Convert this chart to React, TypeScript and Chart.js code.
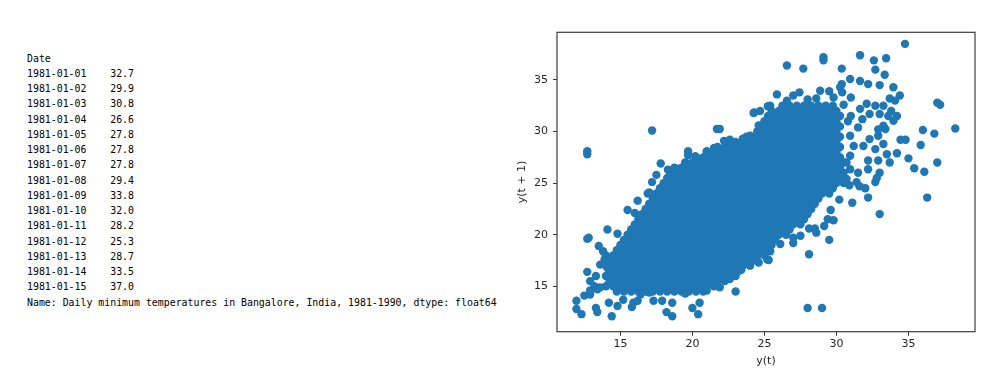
import React, { useEffect, useRef } from "react";
import { Chart, registerables } from "chart.js";

Chart.register(...registerables);

// ---- Left text: pandas Series head ----
const dates = [
  "1981-01-01", "1981-01-02", "1981-01-03", "1981-01-04", "1981-01-05",
  "1981-01-06", "1981-01-07", "1981-01-08", "1981-01-09", "1981-01-10",
  "1981-01-11", "1981-01-12", "1981-01-13", "1981-01-14", "1981-01-15",
];
const temps = [32.7, 29.9, 30.8, 26.6, 27.8, 27.8, 27.8, 29.4, 33.8, 32.0, 28.2, 25.3, 28.7, 33.5, 37.0];
const indexName = "Date";
const seriesName = "Daily minimum temperatures in Bangalore, India, 1981-1990";
const dtypeName = "float64";

// ---- Lag plot axes ----
const tickValues = [15, 20, 25, 30, 35];
const axisMin = 10.6;
const axisMax = 39.62;
const xTitle = "y(t)";
const yTitle = "y(t + 1)";

// ---- Lag plot data: dense core, read row by row (y(t+1) level -> y(t) values) ----
const coreLevels = [
  14.5, 15, 15.5, 16, 16.5, 17, 17.5, 18, 18.5, 19, 19.5, 20, 20.5, 21, 21.5, 22, 22.5, 23, 23.5,
  24, 24.5, 25, 25.5, 26, 26.5, 27, 27.5, 28, 28.5, 29, 29.5, 30, 30.5, 31, 31.5, 32, 32.5,
];
const coreT = [
  [14.75, 15.25, 15.75, 16.25, 16.75, 17.25, 17.75, 18.25, 18.75, 19.25, 19.75, 20.25, 20.75],
  [14, 14.5, 15, 15.5, 16, 16.5, 17, 17.5, 18, 18.5, 19, 19.5, 20, 20.5, 21, 21.5],
  [14.25, 14.75, 15.25, 15.75, 16.25, 16.75, 17.25, 17.75, 18.25, 18.75, 19.25, 19.75, 20.25, 20.75, 21.25, 21.75, 22.25],
  [14, 14.5, 15, 15.5, 16, 16.5, 17, 17.5, 18, 18.5, 19, 19.5, 20, 20.5, 21, 21.5, 22, 22.5, 23],
  [14.25, 14.75, 15.25, 15.75, 16.25, 16.75, 17.25, 17.75, 18.25, 18.75, 19.25, 19.75, 20.25, 20.75, 21.25, 21.75, 22.25, 22.75, 23.25],
  [14, 14.5, 15, 15.5, 16, 16.5, 17, 17.5, 18, 18.5, 19, 19.5, 20, 20.5, 21, 21.5, 22, 22.5, 23, 23.5, 24],
  [14.25, 14.75, 15.25, 15.75, 16.25, 16.75, 17.25, 17.75, 18.25, 18.75, 19.25, 19.75, 20.25, 20.75, 21.25, 21.75, 22.25, 22.75, 23.25, 23.75, 24.25],
  [14, 14.5, 15, 15.5, 16, 16.5, 17, 17.5, 18, 18.5, 19, 19.5, 20, 20.5, 21, 21.5, 22, 22.5, 23, 23.5, 24, 24.5, 25],
  [14.75, 15.25, 15.75, 16.25, 16.75, 17.25, 17.75, 18.25, 18.75, 19.25, 19.75, 20.25, 20.75, 21.25, 21.75, 22.25, 22.75, 23.25, 23.75, 24.25, 24.75, 25.25],
  [15, 15.5, 16, 16.5, 17, 17.5, 18, 18.5, 19, 19.5, 20, 20.5, 21, 21.5, 22, 22.5, 23, 23.5, 24, 24.5, 25, 25.5],
  [15.25, 15.75, 16.25, 16.75, 17.25, 17.75, 18.25, 18.75, 19.25, 19.75, 20.25, 20.75, 21.25, 21.75, 22.25, 22.75, 23.25, 23.75, 24.25, 24.75, 25.25, 25.75],
  [15.5, 16, 16.5, 17, 17.5, 18, 18.5, 19, 19.5, 20, 20.5, 21, 21.5, 22, 22.5, 23, 23.5, 24, 24.5, 25, 25.5, 26, 26.5],
  [15.75, 16.25, 16.75, 17.25, 17.75, 18.25, 18.75, 19.25, 19.75, 20.25, 20.75, 21.25, 21.75, 22.25, 22.75, 23.25, 23.75, 24.25, 24.75, 25.25, 25.75, 26.25, 26.75],
  [16, 16.5, 17, 17.5, 18, 18.5, 19, 19.5, 20, 20.5, 21, 21.5, 22, 22.5, 23, 23.5, 24, 24.5, 25, 25.5, 26, 26.5, 27, 27.5],
  [16.25, 16.75, 17.25, 17.75, 18.25, 18.75, 19.25, 19.75, 20.25, 20.75, 21.25, 21.75, 22.25, 22.75, 23.25, 23.75, 24.25, 24.75, 25.25, 25.75, 26.25, 26.75, 27.25, 27.75],
  [16.5, 17, 17.5, 18, 18.5, 19, 19.5, 20, 20.5, 21, 21.5, 22, 22.5, 23, 23.5, 24, 24.5, 25, 25.5, 26, 26.5, 27, 27.5, 28],
  [16.75, 17.25, 17.75, 18.25, 18.75, 19.25, 19.75, 20.25, 20.75, 21.25, 21.75, 22.25, 22.75, 23.25, 23.75, 24.25, 24.75, 25.25, 25.75, 26.25, 26.75, 27.25, 27.75, 28.25],
  [17, 17.5, 18, 18.5, 19, 19.5, 20, 20.5, 21, 21.5, 22, 22.5, 23, 23.5, 24, 24.5, 25, 25.5, 26, 26.5, 27, 27.5, 28, 28.5],
  [17.25, 17.75, 18.25, 18.75, 19.25, 19.75, 20.25, 20.75, 21.25, 21.75, 22.25, 22.75, 23.25, 23.75, 24.25, 24.75, 25.25, 25.75, 26.25, 26.75, 27.25, 27.75, 28.25, 28.75],
  [17.5, 18, 18.5, 19, 19.5, 20, 20.5, 21, 21.5, 22, 22.5, 23, 23.5, 24, 24.5, 25, 25.5, 26, 26.5, 27, 27.5, 28, 28.5, 29, 29.5],
  [17.75, 18.25, 18.75, 19.25, 19.75, 20.25, 20.75, 21.25, 21.75, 22.25, 22.75, 23.25, 23.75, 24.25, 24.75, 25.25, 25.75, 26.25, 26.75, 27.25, 27.75, 28.25, 28.75, 29.25, 29.75],
  [18, 18.5, 19, 19.5, 20, 20.5, 21, 21.5, 22, 22.5, 23, 23.5, 24, 24.5, 25, 25.5, 26, 26.5, 27, 27.5, 28, 28.5, 29, 29.5, 30, 30.5],
  [18.25, 18.75, 19.25, 19.75, 20.25, 20.75, 21.25, 21.75, 22.25, 22.75, 23.25, 23.75, 24.25, 24.75, 25.25, 25.75, 26.25, 26.75, 27.25, 27.75, 28.25, 28.75, 29.25, 29.75, 30.25],
  [18.5, 19, 19.5, 20, 20.5, 21, 21.5, 22, 22.5, 23, 23.5, 24, 24.5, 25, 25.5, 26, 26.5, 27, 27.5, 28, 28.5, 29, 29.5, 30, 30.5],
  [18.75, 19.25, 19.75, 20.25, 20.75, 21.25, 21.75, 22.25, 22.75, 23.25, 23.75, 24.25, 24.75, 25.25, 25.75, 26.25, 26.75, 27.25, 27.75, 28.25, 28.75, 29.25, 29.75, 30.25],
  [19.5, 20, 20.5, 21, 21.5, 22, 22.5, 23, 23.5, 24, 24.5, 25, 25.5, 26, 26.5, 27, 27.5, 28, 28.5, 29, 29.5, 30, 30.5],
  [20.25, 20.75, 21.25, 21.75, 22.25, 22.75, 23.25, 23.75, 24.25, 24.75, 25.25, 25.75, 26.25, 26.75, 27.25, 27.75, 28.25, 28.75, 29.25, 29.75, 30.25],
  [21, 21.5, 22, 22.5, 23, 23.5, 24, 24.5, 25, 25.5, 26, 26.5, 27, 27.5, 28, 28.5, 29, 29.5, 30],
  [21.75, 22.25, 22.75, 23.25, 23.75, 24.25, 24.75, 25.25, 25.75, 26.25, 26.75, 27.25, 27.75, 28.25, 28.75, 29.25, 29.75, 30.25],
  [22.5, 23, 23.5, 24, 24.5, 25, 25.5, 26, 26.5, 27, 27.5, 28, 28.5, 29, 29.5, 30],
  [23.75, 24.25, 24.75, 25.25, 25.75, 26.25, 26.75, 27.25, 27.75, 28.25, 28.75, 29.25, 29.75, 30.25],
  [24.5, 25, 25.5, 26, 26.5, 27, 27.5, 28, 28.5, 29, 29.5, 30],
  [24.75, 25.25, 25.75, 26.25, 26.75, 27.25, 27.75, 28.25, 28.75, 29.25, 29.75, 30.25],
  [25, 25.5, 26, 26.5, 27, 27.5, 28, 28.5, 29, 29.5, 30],
  [25.25, 25.75, 26.25, 26.75, 27.25, 27.75, 28.25, 28.75, 29.25, 29.75, 30.25],
  [25.5, 26, 26.5, 27, 27.5, 28, 28.5, 29, 29.5, 30],
  [26.25, 26.75, 27.25, 27.75, 28.25, 28.75, 29.25, 29.75],
];

// ---- Lag plot data: scattered points around the core, [y(t), y(t+1)] ----
const lowerLeftPairs = [
  [11.95, 13.6], [11.95, 12.8], [12.3, 12.3], [12.5, 14.1], [12.9, 14.2], [12.9, 14.6], [13.2, 15.0],
  [13.4, 14.7], [13.6, 14.9], [12.7, 16.4], [12.9, 15.5], [13.3, 16.0], [13.3, 12.9], [13.4, 12.5],
  [14.4, 12.1], [14.2, 13.4], [14.8, 13.1], [15.2, 13.7], [15.8, 13.0], [15.9, 13.4], [16.2, 13.6],
  [16.4, 14.2], [17.0, 14.4], [17.3, 13.6], [17.9, 13.6], [18.2, 12.5], [18.6, 12.1], [18.6, 13.4],
  [19.5, 14.3], [20.0, 12.9], [20.4, 12.3], [20.5, 13.4], [21.0, 14.6], [21.9, 14.9], [22.6, 15.7],
  [23.0, 14.5], [23.4, 16.6], [24.5, 17.5], [25.2, 17.6], [12.7, 19.6], [12.8, 19.7], [13.5, 18.9],
  [13.8, 18.4], [13.9, 17.6], [14.1, 16.8], [13.6, 17.1], [14.1, 20.5], [14.8, 20.1], [15.5, 22.4],
  [16.0, 22.1], [16.2, 23.3], [16.9, 24.0],
];
const lowerRightPairs = [
  [24.6, 17.3], [24.9, 18.3], [25.3, 17.55], [25.4, 18.4], [26.1, 19.1], [27.0, 19.7], [27.0, 19.2],
  [27.5, 19.9], [28.1, 18.1], [28.1, 20.6], [28.5, 20.6], [28.6, 20.2], [29.15, 20.85], [29.5, 19.5],
  [29.4, 21.5], [29.8, 21.4], [29.6, 22.4], [30.2, 23.4], [31.1, 23.1], [30.9, 24.8], [31.6, 24.7],
  [32.0, 24.5], [32.2, 23.6], [32.7, 25.1], [33.0, 22.0], [36.3, 23.6], [28.0, 12.9], [29.0, 12.9],
];
const upperRightPairs = [
  [30.7, 25.4], [30.95, 26.35], [30.7, 27.0], [30.95, 27.65], [31.2, 28.6], [30.95, 29.6], [31.5, 30.4],
  [31.4, 25.1], [31.5, 26.0], [32.8, 25.5], [33.0, 26.0], [32.2, 26.35], [32.2, 27.2], [32.9, 27.2],
  [33.7, 27.0], [33.5, 27.8], [32.7, 28.3], [31.87, 28.6], [33.26, 28.8], [32.3, 29.27], [32.9, 29.6],
  [32.9, 30.2], [33.4, 30.24], [33.26, 30.56], [33.96, 31.05], [34.2, 31.5], [33.6, 31.5], [33.0, 31.7],
  [32.3, 31.7], [31.64, 32.2], [33.8, 32.0], [32.1, 32.7], [32.7, 32.5], [33.26, 32.5], [34.07, 33.0],
  [33.7, 33.2], [34.4, 33.5], [33.95, 34.3], [33.0, 34.5], [32.2, 34.6], [31.64, 34.9], [30.95, 35.1],
  [30.37, 34.6], [30.26, 34.3], [29.5, 33.9], [28.87, 33.96], [29.8, 33.3], [28.6, 33.2], [28.0, 33.1],
  [27.43, 33.8], [27.0, 33.5], [26.56, 33.0], [25.87, 33.6], [25.4, 32.5], [24.7, 32.0], [24.3, 31.86],
  [30.5, 32.6], [31.0, 33.3], [30.4, 33.8], [31.0, 31.5], [30.8, 31.0], [31.8, 31.2],
];
const farPairs = [
  [34.76, 38.5], [31.64, 37.4], [29.1, 37.2], [29.1, 36.9], [26.56, 36.4], [27.7, 36.1], [30.37, 36.1],
  [32.6, 36.9], [33.45, 37.1], [32.7, 36.0], [33.35, 35.5], [37.0, 32.8], [37.2, 32.6], [38.25, 30.3],
  [36.0, 30.15], [36.8, 29.8], [35.85, 28.7], [37.0, 27.0], [36.1, 26.1], [35.4, 26.45], [35.0, 27.4],
  [34.2, 27.9], [34.45, 29.2], [34.8, 29.2],
];
const upperLeftPairs = [
  [12.7, 28.1], [12.7, 27.8], [17.2, 30.1], [21.7, 30.25], [21.9, 30.25], [24.25, 31.8], [25.24, 32.45],
  [17.8, 26.9], [18.3, 26.3], [17.5, 25.8], [17.2, 25.1], [17.0, 24.1], [18.9, 26.4], [19.5, 26.7],
  [20.3, 27.2], [19.7, 28.1], [19.7, 27.7], [20.2, 27.6], [21.0, 28.1], [21.5, 28.4], [21.7, 28.3],
  [22.2, 29.1], [22.6, 29.2], [22.6, 28.9], [23.5, 29.3], [24.0, 29.6], [24.6, 30.6], [25.3, 31.2],
];

const pointColor = "#1f77b4";
const textColor = "#262626";

const framePlugin = {
  id: "mplFrame",
  afterDatasetsDraw(chart: any) {
    const { ctx, chartArea } = chart;
    const { left, top, right, bottom } = chartArea;
    ctx.save();
    ctx.strokeStyle = "#3c3c3c";
    ctx.lineWidth = 1.2;
    ctx.strokeRect(left, top, right - left, bottom - top);
    ctx.restore();
  },
};

function LagPlot() {
  const canvasRef = useRef<HTMLCanvasElement | null>(null);

  useEffect(() => {
    if (!canvasRef.current) return;
    const corePoints = coreLevels.flatMap((lvl, i) => coreT[i].map((t) => ({ x: t, y: lvl })));
    const pairPoints = [...lowerLeftPairs, ...lowerRightPairs, ...upperRightPairs, ...farPairs, ...upperLeftPairs].map(
      (p) => ({ x: p[0], y: p[1] })
    );
    const tickFont = { family: "'DejaVu Sans', sans-serif", size: 11 };
    const chart = new Chart(canvasRef.current, {
      type: "scatter",
      data: {
        datasets: [
          {
            data: [...corePoints, ...pairPoints],
            backgroundColor: pointColor,
            borderWidth: 0,
            pointRadius: 4.2,
            pointHoverRadius: 4.2,
          },
        ],
      },
      options: {
        animation: false,
        responsive: false,
        events: [],
        layout: { padding: { left: 0, top: 32.3, right: 25, bottom: 0 } },
        plugins: { legend: { display: false }, tooltip: { enabled: false } },
        scales: {
          x: {
            type: "linear",
            min: axisMin,
            max: axisMax,
            afterBuildTicks: (axis: any) => {
              axis.ticks = tickValues.map((v) => ({ value: v }));
            },
            afterFit: (scale: any) => {
              scale.height = 42.3;
            },
            grid: { display: true, drawOnChartArea: false, drawTicks: true, tickLength: 4, tickColor: "#333", tickWidth: 1 },
            border: { display: false },
            ticks: { color: textColor, font: tickFont, padding: 2, maxRotation: 0, autoSkip: false },
            title: { display: true, text: xTitle, color: textColor, font: tickFont, padding: { top: 0, bottom: 6 } },
          },
          y: {
            type: "linear",
            min: axisMin,
            max: axisMax,
            afterBuildTicks: (axis: any) => {
              axis.ticks = tickValues.map((v) => ({ value: v }));
            },
            afterFit: (scale: any) => {
              scale.width = 57;
            },
            grid: { display: true, drawOnChartArea: false, drawTicks: true, tickLength: 4, tickColor: "#333", tickWidth: 1 },
            border: { display: false },
            ticks: { color: textColor, font: tickFont, padding: 5, autoSkip: false },
            title: { display: true, text: yTitle, color: textColor, font: tickFont, padding: { top: 16, bottom: 0 } },
          },
        },
      },
      plugins: [framePlugin],
    });
    return () => chart.destroy();
  }, []);

  return (
    <div style={{ position: "absolute", left: 500, top: 0, width: 500, height: 374 }}>
      <canvas ref={canvasRef} width={500} height={374} style={{ display: "block" }} />
    </div>
  );
}

export default function App() {
  const lines = [
    indexName,
    ...dates.map((d, i) => `${d}    ${temps[i].toFixed(1)}`),
    `Name: ${seriesName}, dtype: ${dtypeName}`,
  ];
  return (
    <div style={{ position: "absolute", left: 0, top: 0, width: 1000, height: 374, background: "#fff", overflow: "hidden" }}>
      <pre
        style={{
          position: "absolute",
          left: 27,
          top: 50.7,
          margin: 0,
          fontFamily: "'DejaVu Sans Mono', monospace",
          fontSize: 9.9,
          lineHeight: "15.25px",
          color: "#000",
        }}
      >
        {lines.join("\n")}
      </pre>
      <LagPlot />
    </div>
  );
}
